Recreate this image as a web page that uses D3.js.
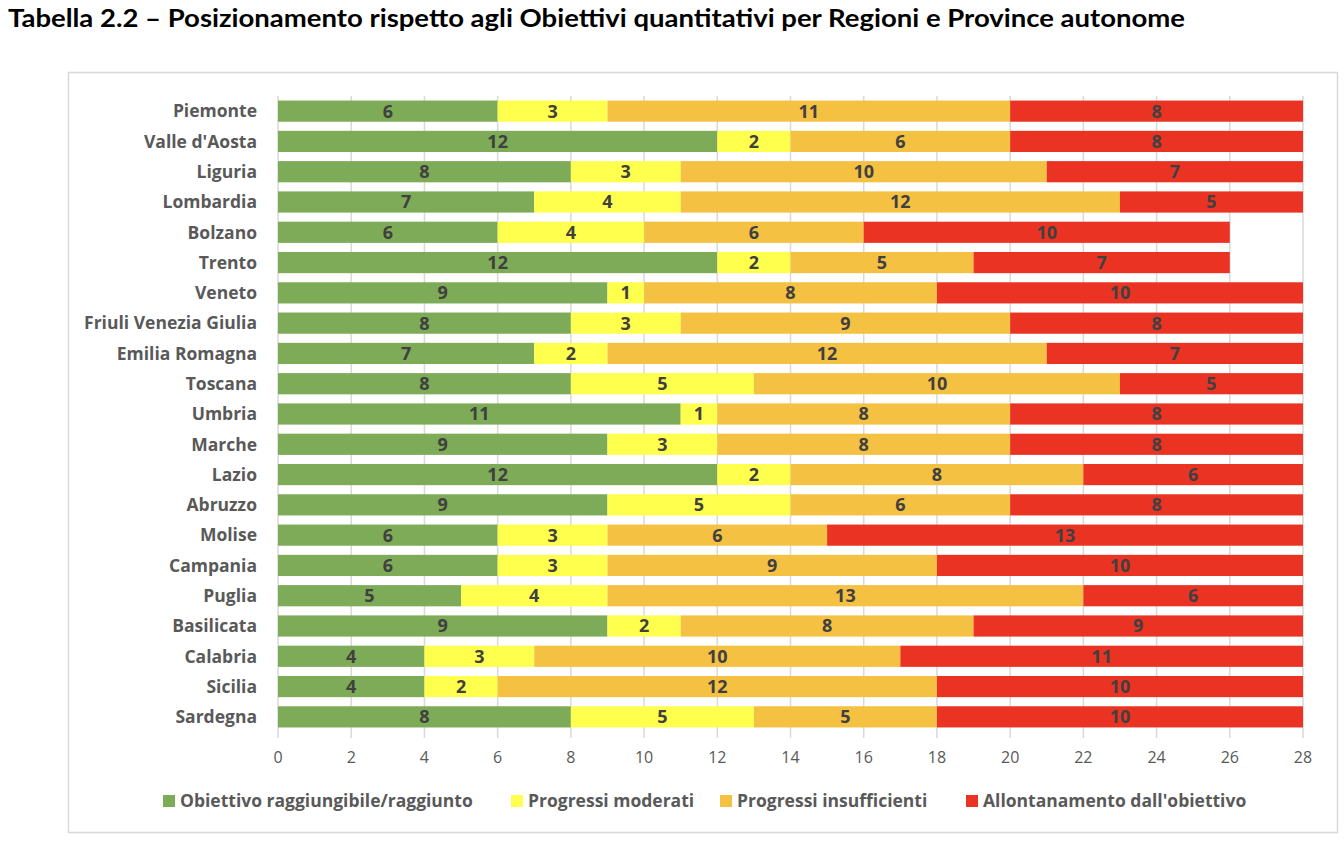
<!DOCTYPE html>
<html>
<head>
<meta charset="utf-8">
<script src="https://cdn.jsdelivr.net/npm/d3@7"></script>
<style>
  body { margin: 0; background: #fff; }
  text { font-family: "Open Sans", Lato, sans-serif; }
</style>
</head>
<body>
<svg id="chart" width="1344" height="842"></svg>
<script>
const regions = ["Piemonte", "Valle d'Aosta", "Liguria", "Lombardia", "Bolzano", "Trento", "Veneto",
  "Friuli Venezia Giulia", "Emilia Romagna", "Toscana", "Umbria", "Marche", "Lazio", "Abruzzo",
  "Molise", "Campania", "Puglia", "Basilicata", "Calabria", "Sicilia", "Sardegna"];
const raggiunto    = [6, 12, 8, 7, 6, 12, 9, 8, 7, 8, 11, 9, 12, 9, 6, 6, 5, 9, 4, 4, 8];
const moderati     = [3, 2, 3, 4, 4, 2, 1, 3, 2, 5, 1, 3, 2, 5, 3, 3, 4, 2, 3, 2, 5];
const insufficienti = [11, 6, 10, 12, 6, 5, 8, 9, 12, 10, 8, 8, 8, 6, 6, 9, 13, 8, 10, 12, 5];
const allontanamento = [8, 8, 7, 5, 10, 7, 10, 8, 7, 5, 8, 8, 6, 8, 13, 10, 6, 9, 11, 10, 10];
const seriesNames = ["Obiettivo raggiungibile/raggiunto", "Progressi moderati", "Progressi insufficienti", "Allontanamento dall'obiettivo"];
const colors = ["#7dab57", "#ffff4d", "#f5c143", "#eb3324"];
const xTicks = d3.range(0, 29, 2);

const rows = regions.map((r, i) => ({
  region: r,
  s0: raggiunto[i], s1: moderati[i], s2: insufficienti[i], s3: allontanamento[i]
}));
const stack = d3.stack().keys(["s0", "s1", "s2", "s3"])(rows);

const svg = d3.select("#chart");

// title
svg.append("text")
  .attr("x", 8).attr("y", 27)
  .style("font-family", "Lato, sans-serif")
  .style("font-size", "25px").style("font-weight", "bold").attr("fill", "#000")
  .attr("textLength", 1177).attr("lengthAdjust", "spacingAndGlyphs")
  .text("Tabella 2.2 – Posizionamento rispetto agli Obiettivi quantitativi per Regioni e Province autonome");

// frame
svg.append("rect")
  .attr("x", 68.5).attr("y", 72.5).attr("width", 1269).attr("height", 760)
  .attr("fill", "#fff").attr("stroke", "#d9d9d9").attr("stroke-width", 1.5);

const x = d3.scaleLinear().domain([0, 28]).range([278, 1303]);
const y = d3.scaleBand().domain(regions).range([96, 732]).paddingInner(0.3).paddingOuter(0.15);

// grid
svg.append("g").selectAll("line").data(xTicks).join("line")
  .attr("x1", d => x(d)).attr("x2", d => x(d))
  .attr("y1", 96).attr("y2", 738)
  .attr("stroke", "#d9d9d9").attr("stroke-width", 1.5);

// bars
const layers = svg.append("g").selectAll("g").data(stack).join("g")
  .attr("fill", (d, i) => colors[i]);
layers.selectAll("rect").data(d => d).join("rect")
  .attr("x", d => x(d[0]))
  .attr("y", d => y(d.data.region))
  .attr("width", d => x(d[1]) - x(d[0]))
  .attr("height", y.bandwidth());

// value labels
svg.append("g").selectAll("g").data(stack).join("g")
  .selectAll("text").data(d => d).join("text")
  .attr("x", d => (x(d[0]) + x(d[1])) / 2)
  .attr("y", d => y(d.data.region) + y.bandwidth() / 2)
  .attr("dy", "0.36em")
  .attr("text-anchor", "middle")
  .style("font-size", "18px").style("font-weight", "bold")
  .attr("fill", "#404040")
  .text(d => d[1] - d[0]);

// category labels
svg.append("g").selectAll("text").data(regions).join("text")
  .attr("x", 257)
  .attr("y", d => y(d) + y.bandwidth() / 2)
  .attr("dy", "0.36em")
  .attr("text-anchor", "end")
  .style("font-size", "17.5px").style("font-weight", "bold")
  .attr("fill", "#595959")
  .text(d => d);

// x tick labels
svg.append("g").selectAll("text").data(xTicks).join("text")
  .attr("x", d => x(d)).attr("y", 763)
  .attr("text-anchor", "middle")
  .style("font-size", "16px")
  .attr("fill", "#595959")
  .text(d => d);

// legend
const legendX = [163, 511, 720, 966];
const lg = svg.append("g").selectAll("g").data(seriesNames).join("g")
  .attr("transform", (d, i) => `translate(${legendX[i]},801)`);
lg.append("rect").attr("x", 0).attr("y", -6).attr("width", 12).attr("height", 12)
  .attr("fill", (d, i) => colors[i]);
lg.append("text").attr("x", 17).attr("dy", "0.36em")
  .style("font-size", "17.5px").style("font-weight", "bold")
  .attr("fill", "#595959")
  .text(d => d);
</script>
</body>
</html>
